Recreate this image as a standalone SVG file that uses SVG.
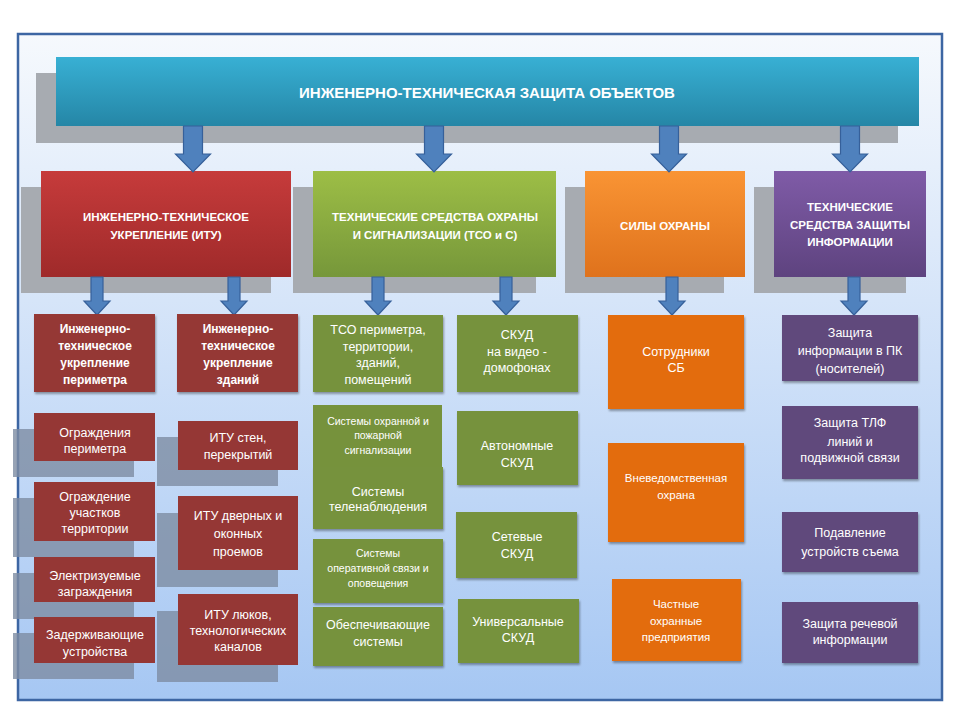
<svg xmlns="http://www.w3.org/2000/svg" xmlns:xlink="http://www.w3.org/1999/xlink" width="960" height="720" viewBox="0 0 960 720">
<defs>
<linearGradient id="bg" x1="0" y1="0" x2="0" y2="1"><stop offset="0" stop-color="#f6f9fd"/><stop offset="1" stop-color="#a6c7f3"/></linearGradient>
<linearGradient id="gTeal" x1="0" y1="0" x2="0" y2="1"><stop offset="0" stop-color="#38b0d4"/><stop offset="1" stop-color="#2586a6"/></linearGradient>
<linearGradient id="gRed" x1="0" y1="0" x2="0" y2="1"><stop offset="0" stop-color="#c63b3b"/><stop offset="1" stop-color="#9f2a2a"/></linearGradient>
<linearGradient id="gGreen" x1="0" y1="0" x2="0" y2="1"><stop offset="0" stop-color="#9dbe46"/><stop offset="1" stop-color="#76973a"/></linearGradient>
<linearGradient id="gOrange" x1="0" y1="0" x2="0" y2="1"><stop offset="0" stop-color="#f99434"/><stop offset="1" stop-color="#df721c"/></linearGradient>
<linearGradient id="gPurple" x1="0" y1="0" x2="0" y2="1"><stop offset="0" stop-color="#7f5ba7"/><stop offset="1" stop-color="#5e437f"/></linearGradient>
<filter id="ds" x="-10%" y="-10%" width="125%" height="130%"><feDropShadow dx="1" dy="2" stdDeviation="1" flood-color="#000" flood-opacity="0.35"/></filter>
<path id="a1" d="M-9.5,126 H9.5 V154 H17.5 L0,172 L-17.5,154 H-9.5 Z"/>
<path id="a2" d="M-6,277 H6 V301 H13 L0,315 L-13,301 H-6 Z"/>
</defs>
<style>
.frame{fill:url(#bg);stroke:#3d66a3;stroke-width:2.5}
.sh1{fill:#a7abb1}
.sh2{fill:#7d8ca3;opacity:0.8}
.arr{fill:#4f81bd;stroke:#36609a;stroke-width:1.2}
.red{fill:#953735}
.green{fill:#76923c}
.orange{fill:#e36c0a}
.purple{fill:#604a7b}
.b{filter:url(#ds)}
text{font-family:"Liberation Sans","Noto Sans",sans-serif;fill:#fff;text-anchor:middle}
.t0{font-size:15px;font-weight:bold}
.t1{font-size:11.5px;font-weight:bold}
.th{font-size:12px;font-weight:bold}
.t{font-size:12.5px}
.to{font-size:11.5px}
.ts{font-size:10.5px}
</style>
<rect class="frame" x="18" y="34" width="924" height="666"/>
<rect class="sh1" x="36" y="73" width="862" height="70"/>
<rect class="sh1" x="21" y="187" width="250" height="106"/>
<rect class="sh1" x="293" y="187" width="243" height="106"/>
<rect class="sh1" x="565" y="187" width="159" height="106"/>
<rect class="sh1" x="754" y="187" width="152" height="106"/>
<g id="shadows2">
<rect class="sh2" x="13" y="429" width="121" height="48"/>
<rect class="sh2" x="13" y="498" width="121" height="59"/>
<rect class="sh2" x="13" y="573" width="121" height="46"/>
<rect class="sh2" x="13" y="633" width="121" height="46"/>
<rect class="sh2" x="157" y="437" width="121" height="49"/>
<rect class="sh2" x="157" y="513" width="121" height="74"/>
<rect class="sh2" x="157" y="611" width="121" height="71"/>
</g>
<g id="title">
<rect x="56" y="57" width="863" height="69" fill="url(#gTeal)"/>
<text class="t0" x="487" y="98">ИНЖЕНЕРНО-ТЕХНИЧЕСКАЯ ЗАЩИТА ОБЪЕКТОВ</text>
</g>
<g id="itu">
<rect x="41" y="171" width="250" height="106" fill="url(#gRed)"/>
<text class="t1" x="166" y="221">ИНЖЕНЕРНО-ТЕХНИЧЕСКОЕ</text>
<text class="t1" x="166" y="239">УКРЕПЛЕНИЕ (ИТУ)</text>
</g>
<g id="tso">
<rect x="313" y="171" width="243" height="106" fill="url(#gGreen)"/>
<text class="t1" x="435" y="221">ТЕХНИЧЕСКИЕ СРЕДСТВА ОХРАНЫ</text>
<text class="t1" x="435" y="239">И СИГНАЛИЗАЦИИ (ТСО и С)</text>
</g>
<g id="sily">
<rect x="585" y="171" width="160" height="106" fill="url(#gOrange)"/>
<text class="t1" x="665" y="230">СИЛЫ ОХРАНЫ</text>
</g>
<g id="tszi">
<rect x="774" y="171" width="152" height="106" fill="url(#gPurple)"/>
<text class="t1" x="850" y="211">ТЕХНИЧЕСКИЕ</text>
<text class="t1" x="850" y="229">СРЕДСТВА ЗАЩИТЫ</text>
<text class="t1" x="850" y="246">ИНФОРМАЦИИ</text>
</g>
<g id="connectors">
<use href="#a1" x="193" class="arr"/>
<use href="#a1" x="434" class="arr"/>
<use href="#a1" x="669" class="arr"/>
<use href="#a1" x="850" class="arr"/>
<use href="#a2" x="97" class="arr"/>
<use href="#a2" x="234" class="arr"/>
<use href="#a2" x="378" class="arr"/>
<use href="#a2" x="506" class="arr"/>
<use href="#a2" x="672" class="arr"/>
<use href="#a2" x="854" class="arr"/>
</g>
<g id="r1h"><rect class="red b" x="34" y="314" width="121" height="78"/>
<text class="th" x="95" y="333">Инженерно-</text><text class="th" x="95" y="350">техническое</text><text class="th" x="95" y="367">укрепление</text><text class="th" x="95" y="384">периметра</text></g>
<g id="r2h"><rect class="red b" x="177" y="314" width="121" height="78"/>
<text class="th" x="238" y="333">Инженерно-</text><text class="th" x="238" y="350">техническое</text><text class="th" x="238" y="367">укрепление</text><text class="th" x="238" y="384">зданий</text></g>
<g id="r1a"><rect class="red" x="34" y="413" width="121" height="48"/>
<text class="t" x="95" y="437">Ограждения</text><text class="t" x="95" y="453">периметра</text></g>
<g id="r1b"><rect class="red" x="34" y="482" width="121" height="59"/>
<text class="t" x="95" y="501">Ограждение</text><text class="t" x="95" y="517">участков</text><text class="t" x="95" y="533">территории</text></g>
<g id="r1c"><rect class="red" x="34" y="557" width="121" height="45"/>
<text class="t" x="95" y="580">Электризуемые</text><text class="t" x="95" y="596">заграждения</text></g>
<g id="r1d"><rect class="red" x="34" y="617" width="121" height="46"/>
<text class="t" x="95" y="639">Задерживающие</text><text class="t" x="95" y="656">устройства</text></g>
<g id="r2a"><rect class="red" x="178" y="421" width="120" height="49"/>
<text class="t" x="238" y="442">ИТУ стен,</text><text class="t" x="238" y="459">перекрытий</text></g>
<g id="r2b"><rect class="red" x="178" y="496" width="120" height="74"/>
<text class="t" x="238" y="520">ИТУ  дверных и</text><text class="t" x="238" y="538">оконных</text><text class="t" x="238" y="556">проемов</text></g>
<g id="r2c"><rect class="red" x="178" y="594" width="120" height="71"/>
<text class="t" x="238" y="619">ИТУ  люков,</text><text class="t" x="238" y="635">технологических</text><text class="t" x="238" y="651">каналов</text></g>
<g id="g1a"><rect class="green b" x="313" y="315" width="130" height="77"/>
<text class="t" x="378" y="334">ТСО периметра,</text><text class="t" x="378" y="351">территории,</text><text class="t" x="378" y="367">зданий,</text><text class="t" x="378" y="384">помещений</text></g>
<g id="g1b"><rect class="green" x="313" y="405" width="129" height="63"/>
<text class="ts" x="378" y="425">Системы охранной и</text><text class="ts" x="378" y="439">пожарной</text><text class="ts" x="378" y="454">сигнализации</text></g>
<g id="g1c"><rect class="green b" x="313" y="467" width="130" height="62"/>
<text class="t" x="378" y="496">Системы</text><text class="t" x="378" y="511">теленаблюдения</text></g>
<g id="g1d"><rect class="green b" x="313" y="539" width="130" height="64"/>
<text class="ts" x="378" y="557">Системы</text><text class="ts" x="378" y="572">оперативной связи и</text><text class="ts" x="378" y="587">оповещения</text></g>
<g id="g1e"><rect class="green b" x="313" y="607" width="130" height="59"/>
<text class="t" x="378" y="629">Обеспечивающие</text><text class="t" x="378" y="646">системы</text></g>
<g id="g2a"><rect class="green b" x="457" y="315" width="121" height="77"/>
<text class="t" x="517" y="339">СКУД</text><text class="t" x="517" y="356">на видео -</text><text class="t" x="517" y="372">домофонах</text></g>
<g id="g2b"><rect class="green b" x="457" y="411" width="121" height="74"/>
<text class="t" x="517" y="450">Автономные</text><text class="t" x="517" y="467">СКУД</text></g>
<g id="g2c"><rect class="green b" x="456" y="512" width="121" height="66"/>
<text class="t" x="517" y="541">Сетевые</text><text class="t" x="517" y="558">СКУД</text></g>
<g id="g2d"><rect class="green b" x="458" y="599" width="121" height="64"/>
<text class="t" x="518" y="626">Универсальные</text><text class="t" x="518" y="642">СКУД</text></g>
<g id="o1"><rect class="orange b" x="608" y="315" width="136" height="94"/>
<text class="t" x="676" y="356">Сотрудники</text><text class="t" x="676" y="372">СБ</text></g>
<g id="o2"><rect class="orange b" x="608" y="443" width="136" height="99"/>
<text class="to" x="676" y="482">Вневедомственная</text><text class="to" x="676" y="499">охрана</text></g>
<g id="o3"><rect class="orange b" x="612" y="579" width="129" height="82"/>
<text class="to" x="676" y="608">Частные</text><text class="to" x="676" y="625">охранные</text><text class="to" x="676" y="641">предприятия</text></g>
<g id="p1"><rect class="purple b" x="782" y="315" width="136" height="66"/>
<text class="t" x="850" y="337">Защита</text><text class="t" x="850" y="355">информации в ПК</text><text class="t" x="850" y="373">(носителей)</text></g>
<g id="p2"><rect class="purple b" x="782" y="406" width="136" height="73"/>
<text class="t" x="850" y="427">Защита ТЛФ</text><text class="t" x="850" y="446">линий и</text><text class="t" x="850" y="462">подвижной связи</text></g>
<g id="p3"><rect class="purple b" x="782" y="512" width="136" height="60"/>
<text class="t" x="850" y="537">Подавление</text><text class="t" x="850" y="556">устройств съема</text></g>
<g id="p4"><rect class="purple b" x="782" y="602" width="136" height="61"/>
<text class="t" x="850" y="628">Защита речевой</text><text class="t" x="850" y="644">информации</text></g>
</svg>
